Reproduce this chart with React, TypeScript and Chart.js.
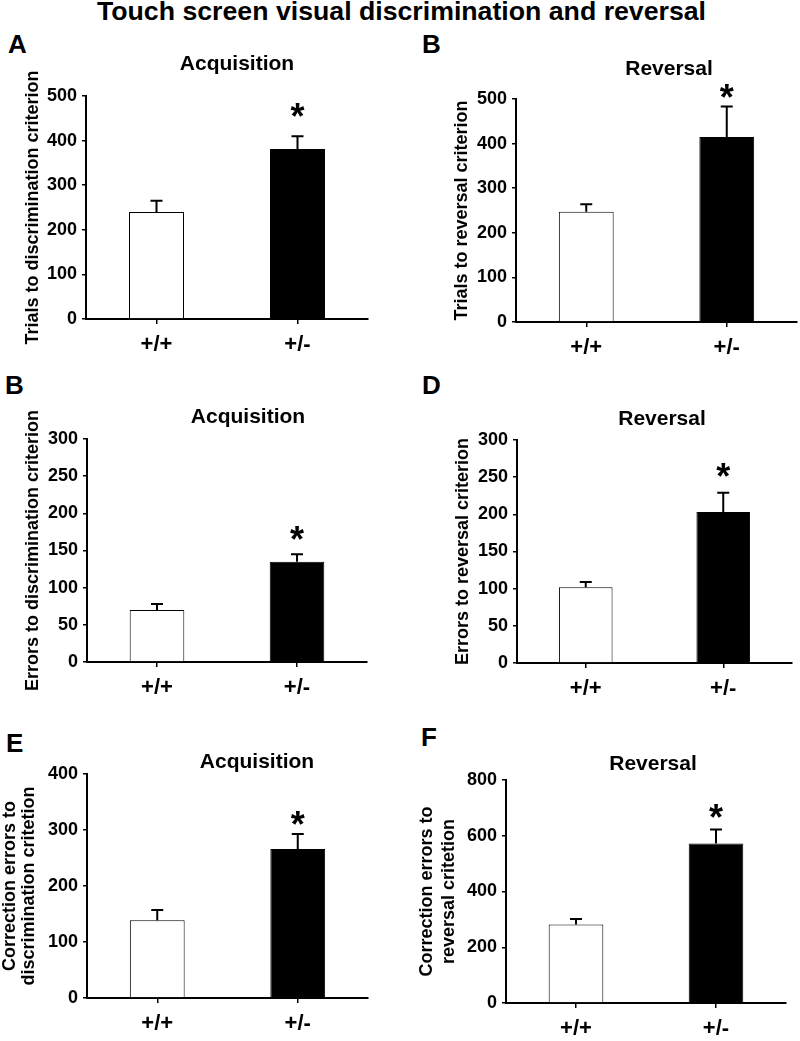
import React, { useEffect, useRef } from "react";
import { Chart, registerables } from "chart.js";

Chart.register(...registerables);

const FONT = '"Liberation Sans", Arial, Helvetica, sans-serif';

// ---------------- data ----------------
const groups = ["+/+", "+/-"];

const trialsAcqMean = [240, 381];
const trialsAcqSem = [25, 29];
const trialsRevMean = [247, 415];
const trialsRevSem = [17, 68];
const errorsAcqMean = [70, 135];
const errorsAcqSem = [8, 10];
const errorsRevMean = [102, 203];
const errorsRevSem = [7, 26];
const corrAcqMean = [139, 266];
const corrAcqSem = [18, 27];
const corrRevMean = [282, 572];
const corrRevSem = [19, 50];

const starLevel = [473, 521, 175, 262, 324, 693];
const yMax = [500, 500, 300, 300, 400, 800];
const yStep = [100, 100, 50, 50, 100, 200];
const panelLetters = ["A", "B", "B", "D", "E", "F"];
const panelTitles = ["Acquisition", "Reversal", "Acquisition", "Reversal", "Acquisition", "Reversal"];
const yTitles: (string | string[])[] = [
  "Trials to discrimination criterion",
  "Trials to reversal criterion",
  "Errors to discrimination criterion",
  "Errors to reversal criterion",
  ["Correction errors to", "discrimination critetion"],
  ["Correction errors to", "reversal critetion"],
];
const mainTitle = "Touch screen visual discrimination and reversal";

const means = [trialsAcqMean, trialsRevMean, errorsAcqMean, errorsRevMean, corrAcqMean, corrRevMean];
const sems = [trialsAcqSem, trialsRevSem, errorsAcqSem, errorsRevSem, corrAcqSem, corrRevSem];

// ---------------- layout (page coordinates) ----------------
type Lay = {
  cx: number; cy: number; cw: number; ch: number;
  L: number; R: number; T: number; B: number;
  titleX: number; titleY: number;
  letterX: number; letterY: number;
  yPad: number; yLH: number;
};

const layouts: Lay[] = [
  { cx: 0, cy: 30, cw: 400, ch: 330, L: 86, R: 368, T: 96, B: 319, titleX: 237, titleY: 62, letterX: 8, letterY: 44, yPad: 22.2, yLH: 1.2 },
  { cx: 400, cy: 30, cw: 400, ch: 330, L: 516, R: 797, T: 99, B: 322, titleX: 669, titleY: 67, letterX: 422, letterY: 44, yPad: 51.2, yLH: 1.2 },
  { cx: 0, cy: 360, cw: 400, ch: 340, L: 87, R: 367, T: 439, B: 662, titleX: 248, titleY: 415, letterX: 5, letterY: 385, yPad: 22.2, yLH: 1.2 },
  { cx: 400, cy: 360, cw: 400, ch: 340, L: 517, R: 792, T: 440, B: 663, titleX: 662, titleY: 417, letterX: 422, letterY: 385, yPad: 52.2, yLH: 1.2 },
  { cx: 0, cy: 700, cw: 400, ch: 341, L: 87, R: 368, T: 774, B: 998, titleX: 257, titleY: 760, letterX: 6, letterY: 743, yPad: 0.5, yLH: 1.05 },
  { cx: 400, cy: 700, cw: 400, ch: 341, L: 506, R: 786, T: 780, B: 1003, titleX: 653, titleY: 762, letterX: 421, letterY: 737, yPad: 15.75, yLH: 1.25 },
];

function Panel({ idx }: { idx: number }) {
  const ref = useRef<HTMLCanvasElement | null>(null);
  const lay = layouts[idx];

  useEffect(() => {
    if (!ref.current) return;
    const m = means[idx];
    const s = sems[idx];

    const overlay = {
      id: "overlay" + idx,
      afterDraw(chart: any) {
        const ctx = chart.ctx as CanvasRenderingContext2D;
        const meta = chart.getDatasetMeta(0);
        const ys = chart.scales.y;
        ctx.save();
        ctx.strokeStyle = "#000";
        ctx.lineWidth = 2;
        meta.data.forEach((el: any, i: number) => {
          const x = el.x;
          const y0 = ys.getPixelForValue(m[i]);
          const y1 = ys.getPixelForValue(m[i] + s[i]);
          ctx.beginPath();
          ctx.moveTo(x, y0);
          ctx.lineTo(x, y1);
          ctx.moveTo(x - 6, y1);
          ctx.lineTo(x + 6, y1);
          ctx.stroke();
        });
        // significance asterisk
        const el = meta.data[1];
        const sy = ys.getPixelForValue(starLevel[idx]);
        ctx.fillStyle = "#000";
        ctx.textAlign = "center";
        ctx.textBaseline = "alphabetic";
        ctx.font = `bold 36px ${FONT}`;
        ctx.fillText("*", el.x, sy + 0.57 * 36);
        // panel subtitle
        ctx.font = `bold 21px ${FONT}`;
        ctx.fillText(panelTitles[idx], lay.titleX - lay.cx, lay.titleY - lay.cy + 0.358 * 21);
        ctx.restore();
      },
    };

    const chart = new Chart(ref.current, {
      type: "bar",
      data: {
        labels: groups,
        datasets: [
          {
            data: m,
            backgroundColor: ["#ffffff", "#000000"],
            borderColor: "#000000",
            borderWidth: 1,
            barPercentage: 0.39,
            categoryPercentage: 1,
          },
        ],
      },
      options: {
        responsive: false,
        animation: false,
        events: [],
        layout: {
          padding: { left: 0, right: lay.cx + lay.cw - lay.R, top: lay.T - lay.cy, bottom: 0 },
        },
        plugins: {
          legend: { display: false },
          tooltip: { enabled: false },
          title: { display: false },
        },
        scales: {
          x: {
            type: "category",
            offset: true,
            z: 1,
            grid: {
              display: true,
              offset: false,
              drawOnChartArea: false,
              drawTicks: true,
              tickLength: 5,
              color: "#000",
              lineWidth: 1.5,
            },
            border: { display: true, color: "#000", width: 2 },
            ticks: {
              color: "#000",
              padding: 8,
              maxRotation: 0,
              font: { family: FONT, size: 22, weight: "bold" },
            },
            afterFit: (sc: any) => {
              sc.height = lay.cy + lay.ch - lay.B;
            },
          },
          y: {
            min: 0,
            max: yMax[idx],
            z: 1,
            grid: {
              display: true,
              drawOnChartArea: false,
              drawTicks: true,
              tickLength: 4,
              color: "#000",
              lineWidth: 1.5,
            },
            border: { display: true, color: "#000", width: 2 },
            ticks: {
              stepSize: yStep[idx],
              color: "#000",
              padding: 5,
              font: { family: FONT, size: 18, weight: "bold" },
            },
            title: {
              display: true,
              text: yTitles[idx] as any,
              color: "#000",
              font: { family: FONT, size: 18, weight: "bold", lineHeight: lay.yLH },
              padding: { top: lay.yPad, bottom: 0 },
            },
            afterFit: (sc: any) => {
              sc.width = lay.L - lay.cx;
            },
          },
        },
      } as any,
      plugins: [overlay],
    });
    return () => chart.destroy();
  }, [idx]);

  return (
    <canvas
      ref={ref}
      width={lay.cw}
      height={lay.ch}
      style={{ position: "absolute", left: lay.cx, top: lay.cy, width: lay.cw, height: lay.ch }}
    />
  );
}

export default function App() {
  return (
    <div
      style={{
        position: "absolute",
        left: 0,
        top: 0,
        width: 800,
        height: 1041,
        overflow: "hidden",
        background: "#fff",
        fontFamily: FONT,
      }}
    >
      <div
        style={{
          position: "absolute",
          left: 0,
          top: -2,
          width: 803,
          textAlign: "center",
          fontWeight: "bold",
          fontSize: 26.7,
          lineHeight: "26px",
          color: "#000",
          whiteSpace: "nowrap",
        }}
      >
        {mainTitle}
      </div>
      {layouts.map((lay, i) => (
        <div
          key={"l" + i}
          style={{
            position: "absolute",
            left: lay.letterX,
            top: lay.letterY - 12.7,
            fontWeight: "bold",
            fontSize: 26,
            lineHeight: "26px",
            color: "#000",
          }}
        >
          {panelLetters[i]}
        </div>
      ))}
      {layouts.map((_, i) => (
        <Panel key={"p" + i} idx={i} />
      ))}
    </div>
  );
}
